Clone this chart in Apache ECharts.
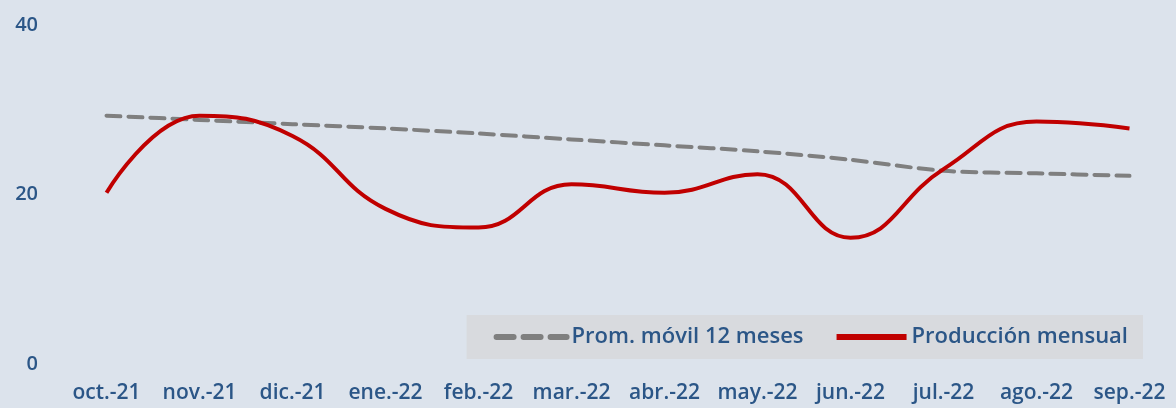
<!DOCTYPE html>
<html>
<head>
<meta charset="utf-8">
<script src="https://cdn.jsdelivr.net/npm/echarts@6/dist/echarts.min.js"></script>
<style>
  html, body { margin: 0; padding: 0; background: #dce3ec; }
  #chart { width: 1176px; height: 408px; }
</style>
</head>
<body>
<div id="chart"></div>
<script>
// meses
const months = ['oct.-21', 'nov.-21', 'dic.-21', 'ene.-22', 'feb.-22', 'mar.-22', 'abr.-22', 'may.-22', 'jun.-22', 'jul.-22', 'ago.-22', 'sep.-22']
const promMovil = [29.3, 28.8, 28.3, 27.8, 27.2, 26.5, 25.8, 25.1, 24.1, 22.8, 22.5, 22.2]
const produccion = [20.2, 29.3, 26.9, 18.3, 16.1, 21.2, 20.2, 22.4, 14.9, 23.0, 28.6, 27.8]
const yTicks = [0, 20, 40]

const textColor = '#2b5687'
const font = '"Open Sans", sans-serif'

const chart = echarts.init(document.getElementById('chart'))
chart.setOption({
  backgroundColor: '#dce3ec',
  animation: false,
  grid: { left: 60, right: 0, top: 25, bottom: 44 },
  legend: {
    right: 33,
    bottom: 49,
    backgroundColor: '#d8dade',
    padding: [11, 15, 11, 27],
    itemWidth: 70,
    itemHeight: 14,
    itemGap: 30,
    itemStyle: { opacity: 0 },
    textStyle: { color: textColor, fontSize: 22, fontWeight: 600, fontFamily: font },
    data: [
      { name: 'Prom. móvil 12 meses', lineStyle: { width: 6, type: [17, 10], cap: 'round' } },
      { name: 'Producción mensual', lineStyle: { width: 6 } }
    ]
  },
  xAxis: {
    type: 'category',
    data: months,
    boundaryGap: true,
    axisLine: { show: false },
    axisTick: { show: false },
    axisLabel: { color: textColor, fontSize: 21, fontWeight: 600, fontFamily: font, margin: 19, interval: 0 }
  },
  yAxis: {
    type: 'value',
    min: yTicks[0],
    max: yTicks[yTicks.length - 1],
    interval: 20,
    splitLine: { show: false },
    axisLine: { show: false },
    axisTick: { show: false },
    axisLabel: { color: textColor, fontSize: 20, fontWeight: 600, fontFamily: font, margin: 22 }
  },
  series: [
    {
      name: 'Prom. móvil 12 meses',
      type: 'line',
      data: promMovil,
      smooth: 0.3,
      symbol: 'none',
      lineStyle: { color: '#7f7f7f', width: 4, type: [14, 8], cap: 'round' },
      itemStyle: { color: '#7f7f7f' }
    },
    {
      name: 'Producción mensual',
      type: 'line',
      data: produccion,
      smooth: 0.45,
      symbol: 'none',
      lineStyle: { color: '#c00000', width: 4 },
      itemStyle: { color: '#c00000' }
    }
  ]
})
</script>
</body>
</html>
